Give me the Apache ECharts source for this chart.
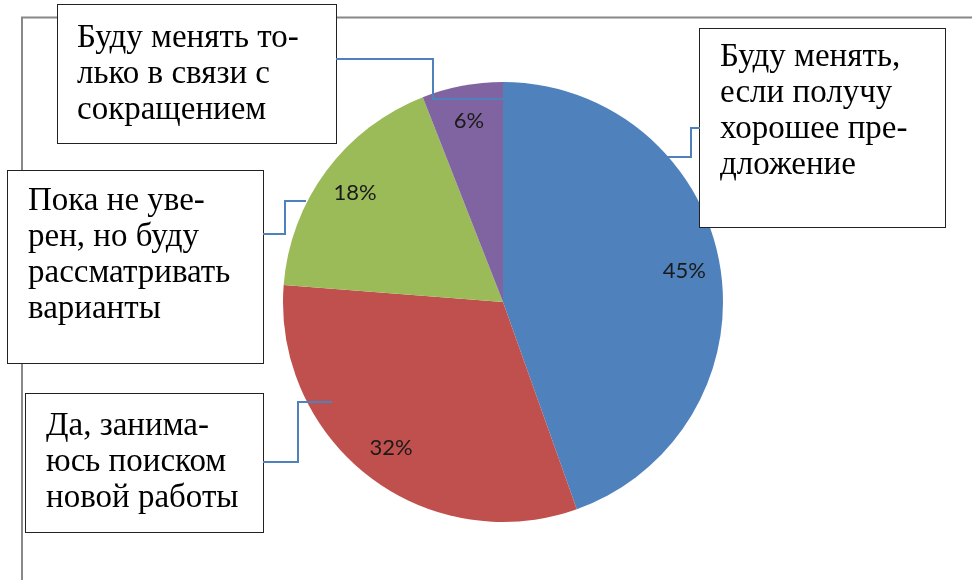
<!DOCTYPE html>
<html>
<head>
<meta charset="utf-8">
<script src="https://cdn.jsdelivr.net/npm/echarts@6/dist/echarts.min.js"></script>
<style>
html,body{margin:0;padding:0;background:#fff;}
#chart{width:972px;height:580px;}
</style>
</head>
<body>
<div id="chart"></div>
<script>
// ---- data ----
const categories = [
  'Буду менять,\nесли получу\nхорошее пре-\nдложение',
  'Да, занима-\nюсь поиском\nновой работы',
  'Пока не уве-\nрен, но буду\nрассматривать\nварианты',
  'Буду менять то-\nлько в связи с\nсокращением'
];
const values = [45, 32, 18, 6];
const colors = ['#4f81bd', '#c0504d', '#9bbb59', '#8064a2'];

// ---- layout (annotation boxes and leader lines) ----
const boxes = [
  {x: 700, y: 29, w: 245, h: 198, pt: 10, pl: 20},
  {x: 26, y: 394, w: 237, h: 138, pt: 14, pl: 20},
  {x: 8, y: 171, w: 255, h: 192, pt: 12, pl: 20},
  {x: 58, y: 5, w: 278, h: 138, pt: 15, pl: 19}
];
const leaders = [
  [[700,128],[691,128],[691,157],[665,157]],
  [[263,462],[298,462],[298,402],[332,402]],
  [[263,234],[285,234],[285,201],[306,201]],
  [[336,59],[433,59],[433,99],[538,99]]
];
const CX = 503, CY = 302, R = 220;

const chart = echarts.init(document.getElementById('chart'), null, {renderer: 'canvas'});

const mainData = categories.map((name, i) => ({
  name: name,
  value: values[i],
  itemStyle: {color: colors[i]},
  label: {
    width: boxes[i].w - boxes[i].pl - 5,
    height: boxes[i].h - boxes[i].pt,
    padding: [boxes[i].pt, 5, 0, boxes[i].pl]
  }
}));

const pctData = categories.map((name, i) => ({name: name, value: values[i]}));

const graphics = [
  {type: 'rect', z: -10, shape: {x: 22, y: 17.5, width: 1200, height: 1000},
   style: {fill: 'none', stroke: '#888', lineWidth: 2}, silent: true}
];
leaders.forEach(pts => {
  graphics.push({type: 'polyline', z: 100, shape: {points: pts},
    style: {stroke: '#4f81bd', lineWidth: 2, fill: null}, silent: true});
});

chart.setOption({
  animation: false,
  backgroundColor: '#fff',
  graphic: graphics,
  series: [
    {
      type: 'pie',
      center: [CX, CY],
      radius: [0, R],
      startAngle: 90,
      clockwise: true,
      silent: true,
      data: mainData,
      itemStyle: {borderWidth: 0},
      emphasis: {disabled: true},
      label: {
        show: true,
        position: 'outside',
        formatter: '{b}',
        fontFamily: '"Liberation Serif", "Times New Roman", serif',
        fontSize: 33,
        lineHeight: 36,
        color: '#000',
        align: 'left',
        verticalAlign: 'top',
        backgroundColor: '#fff',
        borderColor: '#222',
        borderWidth: 1,
        overflow: 'none'
      },
      labelLine: {show: false},
      labelLayout: function (params) {
        const b = boxes[params.dataIndex];
        return {x: b.x, y: b.y, align: 'left', verticalAlign: 'top'};
      },
      z: 2
    },
    {
      type: 'pie',
      center: [CX, CY],
      radius: [100, 262],
      startAngle: 90,
      clockwise: true,
      silent: true,
      data: pctData,
      itemStyle: {color: 'rgba(0,0,0,0)', borderWidth: 0},
      emphasis: {disabled: true},
      label: {
        show: true,
        position: 'inside',
        formatter: function (p) { return p.value + '%'; },
        fontFamily: 'Lato, "Open Sans", sans-serif',
        fontSize: 22,
        color: '#1a1a1a'
      },
      labelLine: {show: false},
      z: 3
    }
  ]
});
</script>
</body>
</html>
